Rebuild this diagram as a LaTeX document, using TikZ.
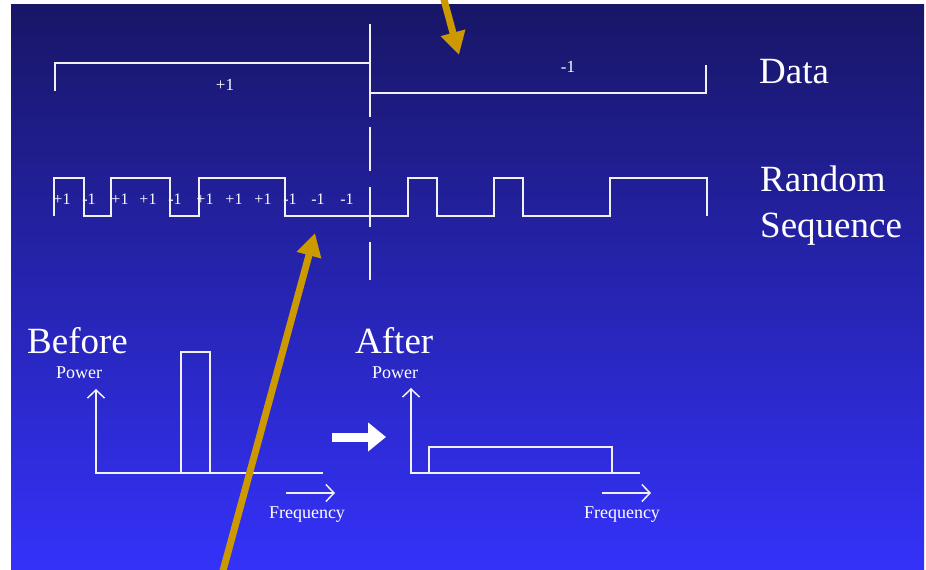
\documentclass[tikz,border=0pt]{standalone}
\usepackage{fontspec}
\setmainfont{Liberation Serif}
\usetikzlibrary{arrows.meta}
\definecolor{navytop}{RGB}{24,22,102}
\definecolor{bluebottom}{RGB}{52,50,250}
\definecolor{pointergold}{RGB}{204,153,0}
\definecolor{trace}{RGB}{240,240,245}
\tikzset{
  signal/.style={draw=trace, line width=1.7pt, line join=miter},
  axisline/.style={draw=trace, line width=1.5pt},
  barb/.style={-{Straight Barb[length=8pt,width=17pt]}},
  biglabel/.style={text=white, font=\fontsize{37}{40}\selectfont, inner sep=0pt, anchor=base west},
  chiplabel/.style={text=white, font=\fontsize{16}{18}\selectfont, inner sep=0pt},
  axislabel/.style={text=white, font=\fontsize{18}{20}\selectfont, inner sep=0pt},
  pointer/.style={draw=pointergold, line width=7pt, -{Triangle[length=23pt,width=24pt]}},
  fatarrow/.style={draw=white, line width=9pt, -{Triangle[length=18pt,width=28pt]}},
}
\begin{document}
\begin{tikzpicture}[x=1pt,y=-1pt]
\useasboundingbox (0,0) rectangle (926,570);
% background panel
\fill[white] (0,0) rectangle (926,570);
\shade[top color=navytop, bottom color=bluebottom] (11,4) rectangle (924,570);

% data waveform
\draw[signal] (55,91) -- (55,63) -- (370,63);
\draw[signal] (370,93) -- (706,93) -- (706,65);
\draw[signal] (370,24) -- (370,117);
\node[chiplabel, font=\fontsize{17}{19}\selectfont] (dplus) at (225,85) {+1};
\node[chiplabel, font=\fontsize{17}{19}\selectfont] (dminus) at (568,67) {-1};
\node[biglabel] (data) at (759,83) {Data};

% bit boundary (dashed part)
\draw[signal] (370,127) -- (370,171);
\draw[signal] (370,187) -- (370,227);
\draw[signal] (370,242) -- (370,280);

% random chip sequence
\draw[signal] (54,216) -- (54,178) -- (84,178) -- (84,216) -- (111,216)
  -- (111,178) -- (170,178) -- (170,216) -- (199,216) -- (199,178)
  -- (285,178) -- (285,216) -- (408,216) -- (408,178) -- (437,178)
  -- (437,216) -- (494,216) -- (494,178) -- (523,178) -- (523,216)
  -- (610,216) -- (610,178) -- (707,178) -- (707,216);
\foreach \x/\v [count=\i] in {62/+1, 89/-1, 120/+1, 148/+1, 175/-1, 205/+1,
    234/+1, 263/+1, 290/-1, 318/-1, 347/-1}
  \node[chiplabel] (chip\i) at (\x,199) {\v};
\node[biglabel] (random) at (760,191) {Random};
\node[biglabel] (sequence) at (760,237) {Sequence};

% spectrum before spreading
\node[biglabel] (before) at (27,353) {Before};
\node[axislabel] (pbefore) at (79,373) {Power};
\draw[axisline, {Straight Barb[length=8pt,width=17pt]}-] (96,389) -- (96,473) -- (323,473);
\draw[axisline] (181,473) -- (181,352) -- (210,352) -- (210,473);
\draw[axisline, barb] (286,493) -- (335,493);
\node[axislabel] (fbefore) at (307,515) {Frequency};

% spreading step
\coordinate (spreadfrom) at (332,437);
\coordinate (spreadto) at (386,437);
\draw[fatarrow] (spreadfrom) -- (spreadto);

% spectrum after spreading
\node[biglabel] (after) at (355,353) {After};
\node[axislabel] (pafter) at (395,373) {Power};
\draw[axisline, {Straight Barb[length=8pt,width=17pt]}-] (411,388) -- (411,473) -- (640,473);
\draw[axisline] (429,473) -- (429,447) -- (612,447) -- (612,473);
\draw[axisline, barb] (602,493) -- (651,493);
\node[axislabel] (fafter) at (622,515) {Frequency};

% pointers
\coordinate (ptopstart) at (443,-4);
\coordinate (ptopend) at (459,55);
\coordinate (pbotstart) at (221,578);
\coordinate (pbotend) at (315,233);
\begin{scope}
\clip (0,0) rectangle (926,570);
\draw[pointer] (ptopstart) -- (ptopend);
\draw[pointer] (pbotstart) -- (pbotend);
\end{scope}
\end{tikzpicture}
\end{document}
